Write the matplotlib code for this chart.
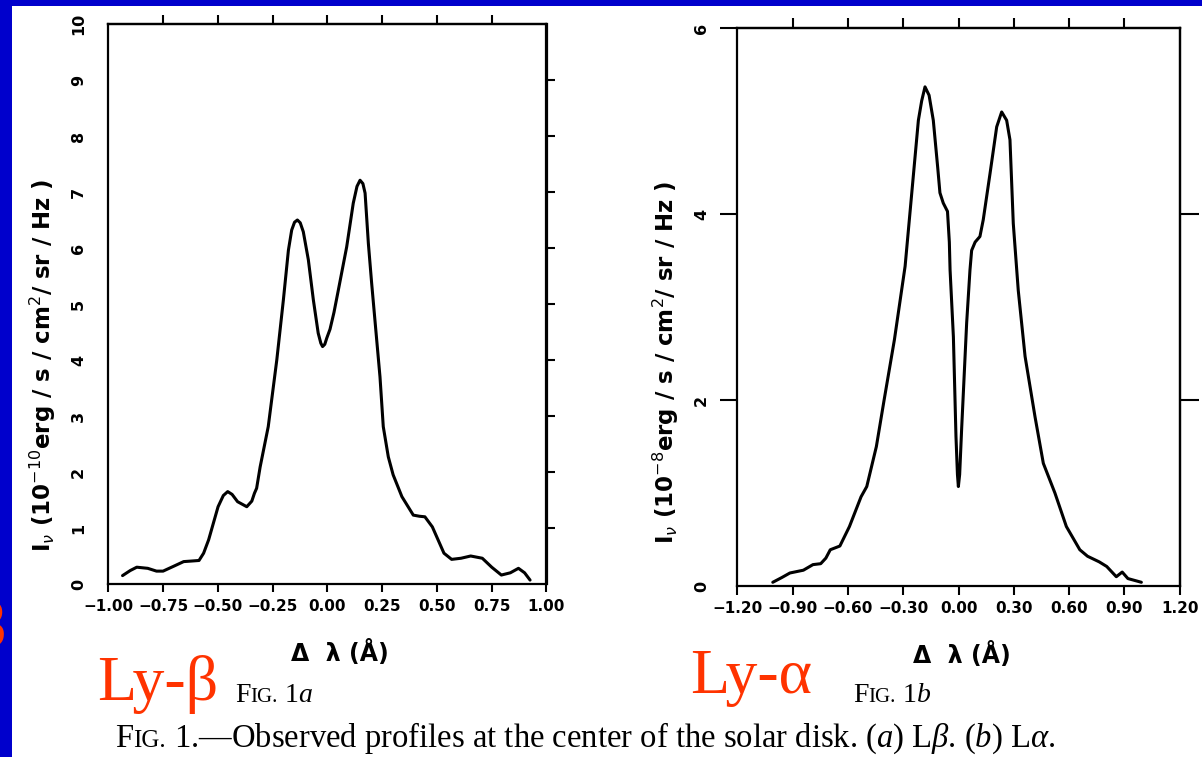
import matplotlib
matplotlib.use("Agg")
import matplotlib.pyplot as plt
from matplotlib.patches import Rectangle

# Fig. 1a : Ly-beta profile (delta lambda in A, intensity in 1e-10 erg/s/cm2/sr/Hz)
lyb_dl = [-0.935, -0.90, -0.87, -0.82, -0.78, -0.75, -0.70, -0.656, -0.62, -0.586,
          -0.565, -0.542, -0.499, -0.475, -0.455, -0.435, -0.41, -0.368, -0.345, -0.333,
          -0.323, -0.307, -0.270, -0.231, -0.201, -0.178, -0.163, -0.150, -0.137, -0.124,
          -0.110, -0.087, -0.064, -0.042, -0.030, -0.022, -0.012, -0.003, 0.012, 0.030,
          0.050, 0.088, 0.118, 0.135, 0.149, 0.162, 0.172, 0.187, 0.202, 0.217,
          0.240, 0.255, 0.278, 0.300, 0.340, 0.392, 0.420, 0.445, 0.479, 0.532,
          0.567, 0.61, 0.654, 0.707, 0.75, 0.794, 0.835, 0.872, 0.90, 0.925]
lyb_int = [0.15, 0.24, 0.30, 0.28, 0.23, 0.23, 0.32, 0.40, 0.41, 0.42,
           0.55, 0.79, 1.38, 1.58, 1.65, 1.60, 1.47, 1.38, 1.48, 1.62,
           1.71, 2.09, 2.81, 4.00, 5.07, 5.96, 6.32, 6.46, 6.50, 6.45,
           6.29, 5.79, 5.07, 4.48, 4.30, 4.24, 4.28, 4.39, 4.55, 4.85,
           5.25, 6.02, 6.80, 7.10, 7.21, 7.15, 6.98, 6.08, 5.37, 4.71,
           3.70, 2.81, 2.27, 1.95, 1.56, 1.23, 1.21, 1.20, 1.02, 0.55,
           0.44, 0.46, 0.50, 0.46, 0.30, 0.16, 0.20, 0.28, 0.20, 0.07]

# Fig. 1b : Ly-alpha profile (intensity in 1e-8 erg/s/cm2/sr/Hz)
lya_dl = [-1.008, -0.96, -0.915, -0.842, -0.790, -0.748, -0.720, -0.696, -0.644, -0.592,
          -0.529, -0.498, -0.446, -0.404, -0.348, -0.290, -0.262, -0.218, -0.200, -0.182,
          -0.160, -0.137, -0.113, -0.101, -0.083, -0.060, -0.050, -0.046, -0.028, -0.014,
          -0.006, -0.001, 0.006, 0.017, 0.044, 0.062, 0.071, 0.090, 0.116, 0.134,
          0.171, 0.207, 0.234, 0.261, 0.279, 0.297, 0.324, 0.361, 0.415, 0.460,
          0.523, 0.585, 0.658, 0.700, 0.763, 0.804, 0.856, 0.888, 0.919, 0.992]
lya_int = [0.04, 0.09, 0.14, 0.17, 0.23, 0.24, 0.30, 0.39, 0.43, 0.64,
           0.96, 1.07, 1.50, 2.00, 2.65, 3.44, 4.05, 5.01, 5.22, 5.37,
           5.28, 5.01, 4.50, 4.23, 4.12, 4.03, 3.70, 3.40, 2.68, 1.61,
           1.20, 1.07, 1.20, 1.70, 2.83, 3.40, 3.61, 3.70, 3.76, 3.94,
           4.44, 4.94, 5.10, 5.01, 4.80, 3.90, 3.18, 2.47, 1.82, 1.32,
           1.00, 0.64, 0.39, 0.32, 0.26, 0.21, 0.10, 0.15, 0.08, 0.04]

lyb_xticks = [-1.0, -0.75, -0.5, -0.25, 0.0, 0.25, 0.5, 0.75, 1.0]
lyb_xlabels = ["\u22121.00", "\u22120.75", "\u22120.50", "\u22120.25", "0.00",
               "0.25", "0.50", "0.75", "1.00"]
lyb_yticks = [0, 1, 2, 3, 4, 5, 6, 7, 8, 9, 10]
lya_xticks = [-1.2, -0.9, -0.6, -0.3, 0.0, 0.3, 0.6, 0.9, 1.2]
lya_xlabels = ["\u22121.20", "\u22120.90", "\u22120.60", "\u22120.30", "0.00",
               "0.30", "0.60", "0.90", "1.20"]
lya_yticks = [0, 2, 4, 6]

W, H = 1202, 757
BLUE = "#0000cc"
RED = "#ff3300"

plt.rcParams["mathtext.fontset"] = "custom"
plt.rcParams["mathtext.rm"] = "Liberation Serif"
plt.rcParams["mathtext.it"] = "Liberation Serif:italic"
plt.rcParams["mathtext.bf"] = "Liberation Serif:bold"

fig = plt.figure(figsize=(W / 100, H / 100), dpi=100)
fig.patch.set_facecolor(BLUE)
fig.add_artist(Rectangle((12 / W, 0), 1, 1 - 6 / H, transform=fig.transFigure,
                         facecolor="white", edgecolor="none", zorder=-5))


def fpos(x, y):
    # pixel position (from top-left) -> figure fraction
    return x / W, 1 - y / H


def panel(rect, xs, ys, xlim, ylim, xticks, xlabels, yticks, top_ticks, right_ticks,
          tl):
    ax = fig.add_axes([rect[0] / W, 1 - rect[3] / H, (rect[2] - rect[0]) / W,
                       (rect[3] - rect[1]) / H])
    ax.plot(xs, ys, color="black", lw=2.2, solid_joinstyle="round",
            solid_capstyle="round")
    ax.set_xlim(*xlim)
    ax.set_ylim(*ylim)
    for sp in ax.spines.values():
        sp.set_linewidth(1.6)
    ax.set_xticks(xticks, xlabels, fontweight="bold", fontsize=11)
    ax.set_yticks(yticks, [str(v) for v in yticks], fontweight="bold", fontsize=11.5)
    ax.tick_params(axis="x", direction="out", length=tl["bottom"], width=1.5,
                   pad=tl["xpad"])
    ax.tick_params(axis="y", direction="out", length=tl["left"], width=1.5,
                   pad=tl["ypad"], labelrotation=90)
    for lab in ax.get_yticklabels():
        lab.set_va("center")
    sec = ax.secondary_xaxis("top")
    sec.set_xticks(top_ticks)
    sec.tick_params(direction="out", length=tl["top"], width=1.5, labeltop=False)
    sec.spines["top"].set_linewidth(1.6)
    sec2 = ax.secondary_yaxis("right")
    sec2.set_yticks(right_ticks)
    sec2.tick_params(direction="out", length=tl["right"], width=1.5, labelright=False)
    sec2.spines["right"].set_linewidth(1.6)
    return ax


ax1 = panel((108.3, 24, 546.5, 584), lyb_dl, lyb_int, (-1, 1), (0, 10),
            lyb_xticks, lyb_xlabels, lyb_yticks, lyb_xticks[1:-1], lyb_yticks[1:-1],
            dict(bottom=5.5, top=6.5, left=0, right=6, xpad=5.5, ypad=16))

ax2 = panel((737.4, 28.3, 1179.7, 586), lya_dl, lya_int, (-1.2, 1.2), (0, 6),
            lya_xticks, lya_xlabels, lya_yticks, lya_xticks[1:-1], lya_yticks[1:-1],
            dict(bottom=6.5, top=7.2, left=12, right=13.7, xpad=4.5, ypad=8.5))
ax2.yaxis.get_major_ticks()[0].tick1line.set_visible(False)

# axis titles
ylab_kw = dict(rotation=90, ha="center", va="center", fontsize=16.5, fontweight="bold",
               math_fontfamily="dejavusans")
fig.text(*fpos(43, 365), r"I$_{\nu}$ (10$^{-10}$erg / s / cm$^{2}$/ sr / Hz )", **ylab_kw)
fig.text(*fpos(666, 362), r"I$_{\nu}$ (10$^{-8}$erg / s / cm$^{2}$/ sr / Hz )", **ylab_kw)
xlab_kw = dict(ha="center", va="center", fontsize=17, fontweight="bold")
fig.text(*fpos(340, 653), "\u0394  \u03bb (\u00c5)", **xlab_kw)
fig.text(*fpos(962, 655), "\u0394  \u03bb (\u00c5)", **xlab_kw)

# red line names
red_kw = dict(color=RED, fontsize=46, family="Liberation Serif", va="baseline")
fig.text(*fpos(97.6, 700), "Ly-\u03b2", **red_kw)
fig.text(*fpos(690, 693), "Ly-\u03b1", **red_kw)
fig.text(*fpos(7, 646), "\u03b2", ha="right", **red_kw)

# captions, set piece by piece for the small caps
renderer = fig.canvas.get_renderer()


def chain(x, y, pieces):
    for s, size in pieces:
        t = fig.text(*fpos(x, y), s, fontsize=size, family="Liberation Serif",
                     va="baseline", color="black")
        x += t.get_window_extent(renderer).width


chain(235, 702, [("F", 20), ("IG.", 15), (r" 1$a$", 20)])
chain(853, 702, [("F", 20), ("IG.", 15), (r" 1$b$", 20)])
chain(115, 747, [("F", 23.5), ("IG.", 18),
                 (" 1.\u2014Observed profiles at the center of the solar disk. "
                  "($a$) L$\\beta$. ($b$) L$\\alpha$.", 23.5)])

fig.savefig("out.png", dpi=100, facecolor=fig.get_facecolor())
